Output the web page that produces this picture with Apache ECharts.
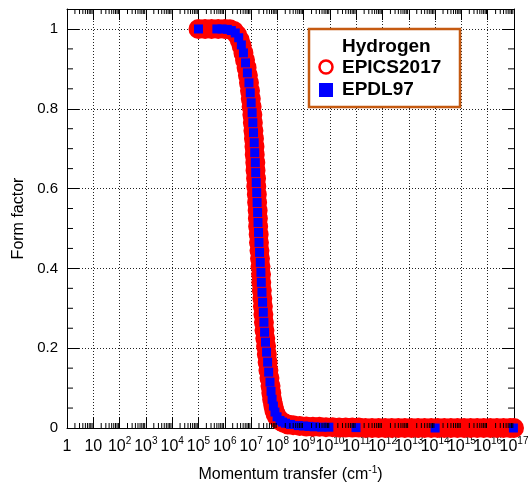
<!DOCTYPE html>
<html>
<head>
<meta charset="utf-8">
<script src="https://cdn.jsdelivr.net/npm/echarts@6/dist/echarts.min.js"></script>
<style>
html, body { margin: 0; padding: 0; background: #fff; }
#chart { width: 528px; height: 491px; }
</style>
</head>
<body>
<div id="chart"></div>
<script>
// EPICS2017 (red open circles): momentum transfer (cm^-1) and form factor
const epicsQ = [
  1e5, 1.78e5, 3.16e5, 5.62e5, 1.0e6, 1.58e6, 2.24e6, 2.95e6, 3.72e6, 4.37e6,
  5.13e6, 5.89e6, 6.76e6, 7.59e6, 8.32e6, 9.12e6, 9.77e6, 1.05e7, 1.12e7, 1.17e7,
  1.23e7, 1.29e7, 1.35e7, 1.38e7, 1.45e7, 1.48e7, 1.55e7, 1.58e7, 1.66e7, 1.70e7,
  1.78e7, 1.82e7, 1.86e7, 1.95e7, 2.00e7, 2.09e7, 2.19e7, 2.29e7, 2.40e7, 2.45e7,
  2.57e7, 2.69e7, 2.82e7, 2.95e7, 3.09e7, 3.24e7, 3.47e7, 3.72e7, 3.98e7, 4.27e7,
  4.57e7, 5.01e7, 5.50e7, 5.89e7, 6.31e7, 6.92e7, 7.59e7, 8.51e7, 9.77e7, 1.17e8,
  1.45e8, 1.86e8, 2.51e8, 3.98e8, 7.08e8, 1.26e9, 2.24e9, 3.98e9, 7.08e9, 1.26e10,
  2.24e10, 3.98e10, 7.08e10, 1.26e11, 2.24e11, 3.98e11, 7.08e11, 1.26e12, 2.24e12, 3.98e12,
  7.08e12, 1.26e13, 2.24e13, 3.98e13, 7.08e13, 1.26e14, 2.24e14, 3.98e14, 7.08e14, 1.26e15,
  2.24e15, 3.98e15, 7.08e15, 1.26e16, 2.24e16, 3.98e16, 7.08e16, 1e17
];
const epicsF = [
  1.0, 1.0, 1.0, 1.0, 1.0, 0.999, 0.995, 0.985, 0.972, 0.958,
  0.940, 0.922, 0.903, 0.884, 0.865, 0.845, 0.825, 0.805, 0.785, 0.765,
  0.745, 0.725, 0.705, 0.685, 0.665, 0.645, 0.625, 0.605, 0.585, 0.565,
  0.545, 0.525, 0.505, 0.485, 0.465, 0.445, 0.425, 0.405, 0.385, 0.365,
  0.345, 0.325, 0.305, 0.285, 0.265, 0.245, 0.225, 0.205, 0.185, 0.165,
  0.145, 0.125, 0.105, 0.088, 0.072, 0.058, 0.046, 0.036, 0.028, 0.021,
  0.016, 0.012, 0.009, 0.007, 0.005, 0.004, 0.003, 0.003, 0.002, 0.002,
  0.001, 0.001, 0.001, 0.001, 0, 0, 0, 0, 0, 0,
  0, 0, 0, 0, 0, 0, 0, 0, 0, 0,
  0, 0, 0, 0, 0, 0, 0, 0
];

// EPDL97 (blue squares)
const epdlQ = [
  1e5, 5.0e5, 7.9e5, 1.26e6, 1.78e6, 2.51e6, 3.39e6, 4.27e6, 5.13e6, 6.17e6,
  7.24e6, 8.32e6, 9.33e6, 1.01e7, 1.10e7, 1.17e7, 1.24e7, 1.32e7, 1.38e7, 1.45e7,
  1.50e7, 1.57e7, 1.64e7, 1.70e7, 1.78e7, 1.84e7, 1.93e7, 2.00e7, 2.11e7, 2.24e7,
  2.37e7, 2.45e7, 2.60e7, 2.75e7, 2.92e7, 3.09e7, 3.27e7, 3.55e7, 3.89e7, 4.27e7,
  4.68e7, 5.25e7, 5.75e7, 6.31e7, 7.08e7, 8.13e7, 9.77e7, 1.26e8, 1.58e8, 2.04e8,
  3.16e8, 6.31e8, 1.0e9, 1.58e9, 2.51e9, 4.9e9, 9.1e9, 9.8e10, 1.0e14, 9.5e16
];
const epdlF = [
  1.0, 1.0, 1.0, 0.999, 0.996, 0.99, 0.978, 0.96, 0.94, 0.915,
  0.89, 0.865, 0.84, 0.815, 0.79, 0.765, 0.74, 0.715, 0.69, 0.665,
  0.64, 0.615, 0.59, 0.565, 0.54, 0.515, 0.49, 0.465, 0.44, 0.415,
  0.39, 0.365, 0.34, 0.315, 0.29, 0.265, 0.24, 0.215, 0.19, 0.165,
  0.14, 0.115, 0.092, 0.072, 0.055, 0.04, 0.028, 0.019, 0.015, 0.012,
  0.009, 0.006, 0.005, 0.004, 0.003, 0.002, 0.002, 0.001, 0, 0
];

// tick labels (index = power of ten)
const xTickLabels = ['1', '10', '10{s|2}', '10{s|3}', '10{s|4}', '10{s|5}', '10{s|6}', '10{s|7}', '10{s|8}',
  '10{s|9}', '10{s|10}', '10{s|11}', '10{s|12}', '10{s|13}', '10{s|14}', '10{s|15}', '10{s|16}', '10{s|17}'];
const yTickLabels = ['0', '0.2', '0.4', '0.6', '0.8', '1'];
const legendLines = ['Hydrogen', 'EPICS2017', 'EPDL97'];

const Q_MIN = 1, Q_MAX = 1e17;
const F_MIN = 0, F_MAX = 1.05;
const FONT = '"Liberation Sans", Arial, sans-serif';

// minor tick positions (log 2..9 per decade, 0.05 on the linear axis)
const xMinor = [];
for (let n = 0; n < 17; n++) {
  for (let m = 2; m <= 9; m++) xMinor.push(m * Math.pow(10, n));
}
const yMinor = [];
for (let k = 1; k < 20; k++) {
  if (k % 4 !== 0) yMinor.push(k * 0.05);
}

const chart = echarts.init(document.getElementById('chart'), null, { renderer: 'canvas' });

const tickStyle = { color: '#000', width: 1 };
const gridLine = { color: '#222', width: 1, type: [1, 2] };

function xAxisBase(pos) {
  return {
    type: 'log',
    logBase: 10,
    position: pos,
    min: Q_MIN,
    max: Q_MAX,
    interval: 1,
    axisLine: { show: true, onZero: false, lineStyle: { color: '#000', width: 1 } },
    axisTick: { show: true, inside: true, length: 11, lineStyle: tickStyle },
    minorTick: { show: false },
    splitLine: { show: false },
    axisLabel: { show: false }
  };
}

function yAxisBase(pos) {
  return {
    type: 'value',
    position: pos,
    min: F_MIN,
    max: F_MAX,
    interval: 0.2,
    axisLine: { show: true, onZero: false, lineStyle: { color: '#000', width: 1 } },
    axisTick: { show: true, inside: true, length: 12, lineStyle: tickStyle },
    minorTick: { show: false },
    splitLine: { show: false },
    axisLabel: { show: false }
  };
}

// the decade labels overlap a little, as in the original; they are split over two
// bottom axes (even / odd powers) so that ECharts keeps every one of them
function xLabelStyle(parity) {
  return {
    show: true,
    margin: 8,
    color: '#000',
    fontFamily: FONT,
    fontSize: 16,
    lineHeight: 22,
    formatter: v => {
      const n = Math.round(Math.log10(v));
      return n % 2 === parity ? (xTickLabels[n] || '') : '';
    },
    rich: { s: { fontFamily: FONT, fontSize: 10, lineHeight: 12, verticalAlign: 'top', color: '#000' } }
  };
}

const xBottom = xAxisBase('bottom');
xBottom.splitLine = { show: true, lineStyle: gridLine };
xBottom.axisLabel = xLabelStyle(0);
xBottom.name = 'Momentum transfer (cm{s|-1})';
xBottom.nameLocation = 'middle';
xBottom.nameGap = 37;
xBottom.nameTextStyle = {
  color: '#000', fontFamily: FONT, fontSize: 16, lineHeight: 20,
  rich: { s: { fontFamily: FONT, fontSize: 10, lineHeight: 11, verticalAlign: 'top', color: '#000' } }
};

const xBottomOdd = xAxisBase('bottom');
xBottomOdd.axisLine = { show: false };
xBottomOdd.axisTick = { show: false };
xBottomOdd.axisLabel = xLabelStyle(1);

const xTop = xAxisBase('top');

const yLeft = yAxisBase('left');
yLeft.splitLine = { show: true, lineStyle: gridLine };
yLeft.axisLabel = {
  show: true,
  margin: 9,
  color: '#000',
  fontFamily: FONT,
  fontSize: 15,
  formatter: v => (v > 1.001 ? '' : yTickLabels[Math.round(v / 0.2)])
};
yLeft.name = 'Form factor';
yLeft.nameLocation = 'middle';
yLeft.nameGap = 37;
yLeft.nameTextStyle = { color: '#000', fontFamily: FONT, fontSize: 16 };

const yRight = yAxisBase('right');

const minorTickLine = (x1, y1, x2, y2) => ({
  type: 'line',
  shape: { x1, y1, x2, y2 },
  style: { stroke: '#000', lineWidth: 1 }
});

chart.setOption({
  animation: false,
  backgroundColor: '#fff',
  textStyle: { fontFamily: FONT },
  grid: { left: 67, right: 14, top: 9, bottom: 63, containLabel: false, outerBoundsMode: 'none' },
  xAxis: [xBottom, xTop, xBottomOdd],
  yAxis: [yLeft, yRight],
  series: [
    {
      name: 'EPICS2017',
      type: 'scatter',
      data: epicsQ.map((q, i) => [q, epicsF[i]]),
      symbol: 'circle',
      symbolSize: 13,
      itemStyle: { color: 'rgba(0,0,0,0)', borderColor: '#ff0000', borderWidth: 7, opacity: 1 },
      clip: false,
      silent: true,
      z: 3
    },
    {
      name: 'EPDL97',
      type: 'scatter',
      data: epdlQ.map((q, i) => [q, epdlF[i]]),
      symbol: 'rect',
      symbolSize: 9,
      itemStyle: { color: '#0000ff', opacity: 1 },
      clip: false,
      silent: true,
      z: 4
    },
    {
      // log minor ticks, bottom and top
      type: 'custom',
      silent: true,
      z: 5,
      data: xMinor.map(v => [v, 0]),
      renderItem: (params, api) => {
        const v = api.value(0);
        const b = api.coord([v, F_MIN]);
        const t = api.coord([v, F_MAX]);
        return {
          type: 'group',
          children: [minorTickLine(b[0], b[1], b[0], b[1] - 5), minorTickLine(t[0], t[1], t[0], t[1] + 5)]
        };
      }
    },
    {
      // linear minor ticks, left and right
      type: 'custom',
      silent: true,
      z: 5,
      data: yMinor.map(v => [Q_MIN, v]),
      renderItem: (params, api) => {
        const v = api.value(1);
        const l = api.coord([Q_MIN, v]);
        const r = api.coord([Q_MAX, v]);
        return {
          type: 'group',
          children: [minorTickLine(l[0], l[1], l[0] + 6, l[1]), minorTickLine(r[0], r[1], r[0] - 6, r[1])]
        };
      }
    }
  ],
  graphic: [
    {
      type: 'rect', z: 100,
      shape: { x: 309, y: 29, width: 151, height: 78 },
      style: { fill: '#fff', stroke: '#c55a11', lineWidth: 2.5 }
    },
    {
      type: 'text', z: 101, x: 342, y: 47,
      style: { text: legendLines[0], font: 'bold 19px ' + FONT, fill: '#000', align: 'left', verticalAlign: 'middle' }
    },
    {
      type: 'circle', z: 101,
      shape: { cx: 326, cy: 67, r: 6.5 },
      style: { fill: '#fff', stroke: '#ff0000', lineWidth: 2.5 }
    },
    {
      type: 'text', z: 101, x: 342, y: 68,
      style: { text: legendLines[1], font: 'bold 19px ' + FONT, fill: '#000', align: 'left', verticalAlign: 'middle' }
    },
    {
      type: 'rect', z: 101,
      shape: { x: 319, y: 83, width: 14, height: 14 },
      style: { fill: '#0000ff' }
    },
    {
      type: 'text', z: 101, x: 342, y: 90,
      style: { text: legendLines[2], font: 'bold 19px ' + FONT, fill: '#000', align: 'left', verticalAlign: 'middle' }
    }
  ]
});
</script>
</body>
</html>
